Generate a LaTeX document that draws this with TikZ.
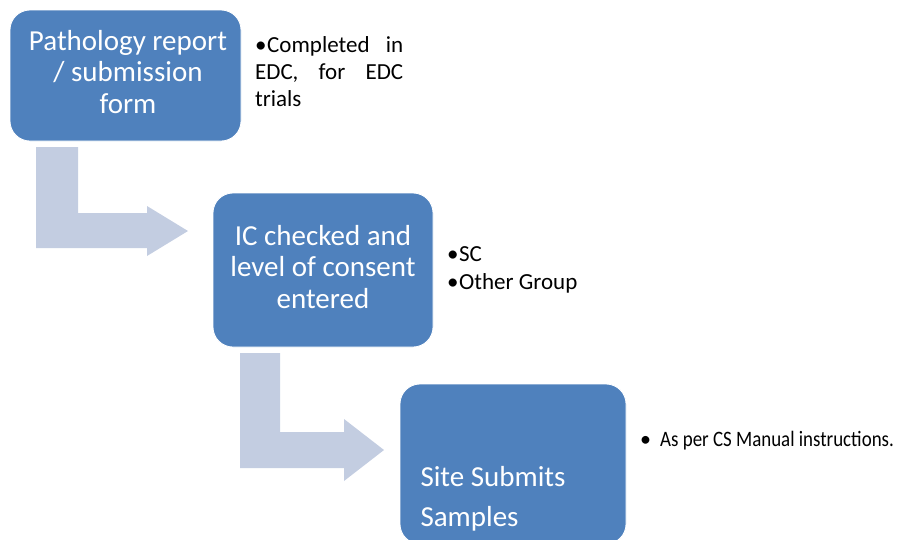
\documentclass[tikz,border=0pt]{standalone}
\usepackage{fontspec}
\setmainfont{Carlito}
\usepackage{graphicx}
\definecolor{boxblue}{RGB}{79,129,189}
\definecolor{arrowgrey}{RGB}{195,205,225}
\begin{document}
\begin{tikzpicture}[x=1pt,y=-1pt,
    stepbox/.style={fill=boxblue,draw=white,line width=0.8pt,rounded corners=20pt},
    boxtext/.style={text=white,align=center,font=\fontsize{29}{31.5}\selectfont},
    note/.style={text=black,font=\fontsize{23}{27}\selectfont},
    elbow/.style={fill=arrowgrey}]
    \useasboundingbox (0,0) rectangle (908,539);
    % elbow arrows between the steps
    \fill[elbow] (36,147) -- (78,147) -- (78,213) -- (147,213) -- (147,206) -- (188,231)
      -- (147,256) -- (147,248) -- (36,248) -- cycle;
    \fill[elbow] (240,353) -- (280,353) -- (280,432) -- (344,432) -- (344,419) -- (384,450)
      -- (344,481) -- (344,468) -- (240,468) -- cycle;
    % steps
    \node[stepbox,minimum width=231pt,minimum height=131pt] (patho) at (125.5,75.5) {};
    \node[boxtext] (pathotext) at (128,72) {Pathology report\\/ submission\\form};
    \node[stepbox,minimum width=220pt,minimum height=154pt] (consent) at (323,270) {};
    \node[boxtext] (consenttext) at (323,267) {IC checked and\\level of consent\\entered};
    \node[stepbox,minimum width=226pt,minimum height=160pt] (site) at (513,464) {};
    \node[boxtext,align=left,anchor=west,font=\fontsize{29}{40}\selectfont] (sitetext)
      at (417,499) {Site Submits\\Samples};
    % notes beside the steps
    \node[note,anchor=north west,text width=148pt,align=justify,inner sep=0pt] (edc)
      at (255,36) {\hangindent=12pt\hangafter=1\makebox[12pt][l]{\textbullet}Completed in\linebreak
      EDC, for EDC\linebreak trials};
    \node[note,anchor=north west,align=left,inner sep=0pt] (groups) at (447,246)
      {\makebox[12pt][l]{\textbullet}SC\\[1pt]\makebox[12pt][l]{\textbullet}Other Group};
    \node[note,anchor=west,inner sep=0pt,font=\fontsize{22}{26}\selectfont] (manual) at (640,441)
      {\makebox[20pt][l]{\textbullet}\scalebox{0.86}[1]{As per CS Manual instructions.}};
\end{tikzpicture}
\end{document}
